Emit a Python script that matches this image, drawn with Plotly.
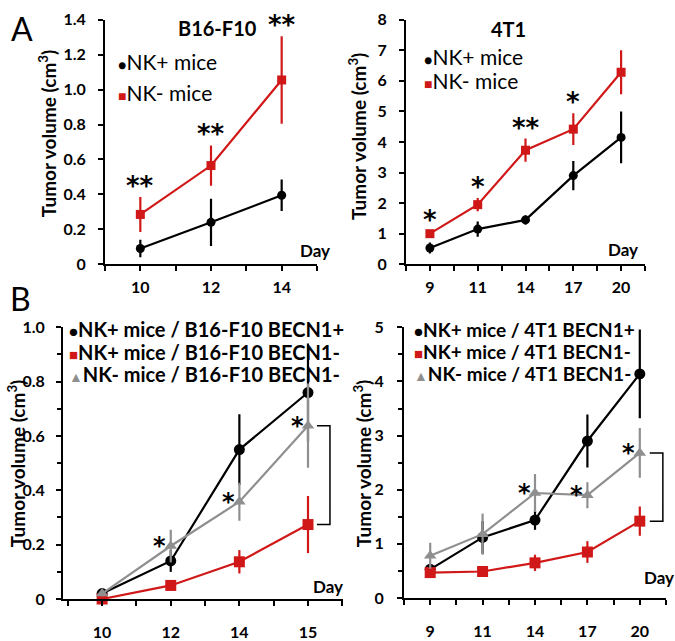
import plotly.graph_objects as go

# ---------------- data ----------------
days_a1 = ["10", "12", "14"]
a1_nkpos = [0.09, 0.24, 0.395]
a1_nkpos_err = [0.05, 0.135, 0.09]
a1_nkneg = [0.285, 0.565, 1.055]
a1_nkneg_err = [0.10, 0.115, 0.25]
a1_sig = ["**", "**", "**"]

days_a2 = ["9", "11", "14", "17", "20"]
a2_nkpos = [0.53, 1.15, 1.45, 2.90, 4.15]
a2_nkpos_err = [0.18, 0.25, 0.15, 0.48, 0.85]
a2_nkneg = [1.00, 1.95, 3.73, 4.42, 6.28]
a2_nkneg_err = [0.10, 0.22, 0.38, 0.52, 0.72]
a2_sig = ["*", "*", "**", "*", ""]

days_b1 = ["10", "12", "14", "15"]
b1_pos_becn_pos = [0.02, 0.14, 0.55, 0.76]
b1_pos_becn_pos_err = [0.01, 0.04, 0.13, 0.18]
b1_pos_becn_neg = [0.0, 0.05, 0.137, 0.274]
b1_pos_becn_neg_err = [0.005, 0.02, 0.043, 0.105]
b1_neg_becn_neg = [0.02, 0.195, 0.358, 0.638]
b1_neg_becn_neg_err = [0.01, 0.06, 0.07, 0.155]
b1_sig = ["", "*", "*", "*"]

days_b2 = ["9", "11", "14", "17", "20"]
b2_pos_becn_pos = [0.53, 1.12, 1.44, 2.90, 4.14]
b2_pos_becn_pos_err = [0.10, 0.30, 0.18, 0.49, 0.82]
b2_pos_becn_neg = [0.47, 0.49, 0.65, 0.85, 1.42]
b2_pos_becn_neg_err = [0.10, 0.08, 0.15, 0.20, 0.27]
b2_neg_becn_neg = [0.78, 1.18, 1.94, 1.90, 2.68]
b2_neg_becn_neg_err = [0.24, 0.38, 0.35, 0.24, 0.46]
b2_sig = ["", "", "*", "*", "*"]

a1_yticks = [0, 0.2, 0.4, 0.6, 0.8, 1.0, 1.2, 1.4]
a1_yticktext = ["0", "0.2", "0.4", "0.6", "0.8", "1.0", "1.2", "1.4"]
a2_yticks = [0, 1, 2, 3, 4, 5, 6, 7, 8]
b1_yticks = [0, 0.2, 0.4, 0.6, 0.8, 1.0]
b1_yticktext = ["0", "0.2", "0.4", "0.6", "0.8", "1.0"]
b2_yticks = [0, 1, 2, 3, 4, 5]

# ---------------- styles ----------------
W, H = 675, 641
BLACK = "#000000"
RED = "#d01818"
GRAY = "#8f8f8f"
FONT = "Lato"

def px(x):
    return x / W

def py(y):
    return 1 - y / H

fig = go.Figure()

def add_series(xa, ya, days, vals, errs, color, symbol, size, lw=2.2):
    fig.add_trace(go.Scatter(
        x=list(range(len(days))), y=vals,
        mode="lines+markers",
        line=dict(color=color, width=lw),
        marker=dict(color=color, symbol=symbol, size=size, line=dict(width=0)),
        error_y=dict(type="data", array=errs, visible=True, color=color,
                     thickness=2.2, width=0),
        xaxis=xa, yaxis=ya, showlegend=False, hoverinfo="skip",
        cliponaxis=False,
    ))

# Panel A left
add_series("x", "y", days_a1, a1_nkpos, a1_nkpos_err, BLACK, "circle", 9)
add_series("x", "y", days_a1, a1_nkneg, a1_nkneg_err, RED, "square", 9)
# Panel A right
add_series("x2", "y2", days_a2, a2_nkpos, a2_nkpos_err, BLACK, "circle", 9)
add_series("x2", "y2", days_a2, a2_nkneg, a2_nkneg_err, RED, "square", 9)
# Panel B left
add_series("x3", "y3", days_b1, b1_pos_becn_pos, b1_pos_becn_pos_err, BLACK, "circle", 11)
add_series("x3", "y3", days_b1, b1_pos_becn_neg, b1_pos_becn_neg_err, RED, "square", 11)
add_series("x3", "y3", days_b1, b1_neg_becn_neg, b1_neg_becn_neg_err, GRAY, "triangle-up", 11)
# Panel B right
add_series("x4", "y4", days_b2, b2_pos_becn_pos, b2_pos_becn_pos_err, BLACK, "circle", 11)
add_series("x4", "y4", days_b2, b2_pos_becn_neg, b2_pos_becn_neg_err, RED, "square", 11)
add_series("x4", "y4", days_b2, b2_neg_becn_neg, b2_neg_becn_neg_err, GRAY, "triangle-up", 11)

TICKFONT = dict(family=FONT, size=16, color="black", weight="bold")

def xaxis_cfg(days, domain, rng, standoff):
    n = len(days)
    vals, text = [], []
    for i in range(n):
        vals += [i - 0.5, i]
        text += ["", days[i]]
    vals.append(n - 0.5)
    text.append("")
    return dict(domain=domain, range=rng, tickvals=vals, ticktext=text,
                showline=True, linecolor="black", linewidth=2, ticks="outside",
                ticklen=5, tickwidth=2, tickcolor="black", showgrid=False,
                zeroline=False, ticklabelstandoff=standoff, tickfont=TICKFONT)

def yaxis_cfg(domain, rng, tickvals, ticktext, standoff, minor=None):
    d = dict(domain=domain, range=rng, tickvals=tickvals, ticktext=ticktext,
             showline=True, linecolor="black", linewidth=2, ticks="outside",
             ticklen=5, tickwidth=2, tickcolor="black", showgrid=False,
             zeroline=False, ticklabelstandoff=standoff, tickfont=TICKFONT)
    if minor is not None:
        d["minor"] = dict(ticks="outside", dtick=minor, ticklen=4, tickwidth=2,
                          tickcolor="black", showgrid=False)
    return d

fig.update_layout(
    width=W, height=H, margin=dict(l=0, r=0, t=0, b=0),
    paper_bgcolor="white", plot_bgcolor="white",
    font=dict(family=FONT, color="black"),
    xaxis=xaxis_cfg(days_a1, [px(105), px(317)], [-0.5, 2.5], 3),
    yaxis=yaxis_cfg([py(262), py(10)], [0, 1.4], a1_yticks, a1_yticktext, 9),
    xaxis2=xaxis_cfg(days_a2, [px(406), px(645)], [-0.5, 4.5], 3),
    yaxis2=yaxis_cfg([py(262), py(10)], [0, 8], a2_yticks, [str(v) for v in a2_yticks], 9),
    xaxis3=xaxis_cfg(days_b1, [px(63), px(343)], [-0.57, 3.51], 13),
    yaxis3=yaxis_cfg([py(607), py(327)], [0, 1.0], b1_yticks, b1_yticktext, 8, minor=0.1),
    xaxis4=xaxis_cfg(days_b2, [px(404), px(666)], [-0.5, 4.5], 13),
    yaxis4=yaxis_cfg([py(606), py(327)], [0, 5], b2_yticks, [str(v) for v in b2_yticks], 10, minor=0.5),
)
for i in ["", "2", "3", "4"]:
    fig.layout["xaxis" + i]["anchor"] = "y" + i
    fig.layout["yaxis" + i]["anchor"] = "x" + i

ann = []

def paper_text(x, y, text, size, bold=False, xanchor="center", yanchor="middle", angle=0):
    ann.append(dict(xref="paper", yref="paper", x=px(x), y=py(y), text=text,
                    showarrow=False, xanchor=xanchor, yanchor=yanchor, textangle=angle,
                    font=dict(family=FONT, size=size, color="black",
                              weight="bold" if bold else "normal")))

# panel letters
paper_text(22, 19, "A", 32)
paper_text(20, 297, "B", 32)
# titles
paper_text(217, 19, "B16-F10", 20, bold=True)
paper_text(508, 20, "4T1", 20, bold=True)
# y titles
ytitle = "Tumor volume (cm<sup>3</sup>)"
paper_text(47, 128, ytitle, 19, bold=True, angle=-90)
paper_text(357, 131, ytitle, 19, bold=True, angle=-90)
paper_text(16, 468, ytitle, 19, bold=True, angle=-90)
paper_text(362, 468, ytitle, 19, bold=True, angle=-90)
# Day labels
paper_text(315, 248, "Day", 17, bold=True)
paper_text(623, 247, "Day", 17, bold=True)
paper_text(328, 594, "Day", 17, bold=True)
paper_text(659, 585, "Day", 17, bold=True)

# legends
def legend_item(x, y, glyph, gsize, color, label, size, bold):
    w = "bold" if bold else "normal"
    text = (f"<span style='font-size:{gsize}px;color:{color}'>{glyph}</span>"
            f"{label}")
    ann.append(dict(xref="paper", yref="paper", x=px(x), y=py(y), text=text,
                    showarrow=False, xanchor="left", yanchor="middle",
                    font=dict(family=FONT, size=size, color="black", weight=w)))

legend_item(116, 53, "●", 14, BLACK, "NK+ mice", 21, False)
legend_item(116, 85, "■", 14, RED, "NK- mice", 21, False)
legend_item(422, 48, "●", 14, BLACK, "NK+ mice", 21, False)
legend_item(422, 73, "■", 14, RED, "NK- mice", 21, False)

legend_item(67, 329, "●", 15, BLACK, "NK+ mice / B16-F10 BECN1+", 20, True)
legend_item(67, 352, "■", 15, RED, "NK+ mice / B16-F10 BECN1-", 20, True)
legend_item(67, 375, "▲", 14, GRAY, "NK- mice / B16-F10 BECN1-", 20, True)
legend_item(412, 329, "●", 15, BLACK, "NK+ mice / 4T1 BECN1+", 19, True)
legend_item(412, 352, "■", 15, RED, "NK+ mice / 4T1 BECN1-", 19, True)
legend_item(412, 375, "▲", 14, GRAY, "NK- mice / 4T1 BECN1-", 19, True)

# significance stars (panel A: above red error bars)
def stars_above(xa, ya, vals, errs, sig, size):
    for i, s in enumerate(sig):
        if s:
            ann.append(dict(xref=xa, yref=ya, x=i, y=vals[i] + errs[i], text=s,
                            showarrow=False, xanchor="center", yanchor="bottom",
                            yshift=-6,
                            font=dict(family="DejaVu Sans", size=size, color="black",
                                      weight="bold")))

stars_above("x", "y", a1_nkneg, a1_nkneg_err, a1_sig, 26)
stars_above("x2", "y2", a2_nkneg, a2_nkneg_err, a2_sig, 26)

def stars_beside(xa, ya, vals, sig, size):
    for i, s in enumerate(sig):
        if s:
            ann.append(dict(xref=xa, yref=ya, x=i, y=vals[i], text=s,
                            showarrow=False, xanchor="center", yanchor="middle",
                            xshift=-11, yshift=0,
                            font=dict(family="DejaVu Sans", size=size, color="black",
                                      weight="bold")))

stars_beside("x3", "y3", b1_neg_becn_neg, b1_sig, 24)
stars_beside("x4", "y4", b2_neg_becn_neg, b2_sig, 24)

fig.update_layout(annotations=ann)

# brackets comparing last points of gray vs red in panel B
def bracket(xa, ya, n, top, bottom, dx_stub, dx_line):
    x_line = n - 1 + dx_line
    x_stub = n - 1 + dx_stub
    fig.add_shape(type="path", xref=xa, yref=ya,
                  path=f"M {x_stub} {top} L {x_line} {top} L {x_line} {bottom} L {x_stub} {bottom}",
                  line=dict(color="black", width=1.5))

bracket("x3", "y3", len(days_b1), b1_neg_becn_neg[-1], b1_pos_becn_neg[-1], 0.13, 0.32)
bracket("x4", "y4", len(days_b2), b2_neg_becn_neg[-1], b2_pos_becn_neg[-1], 0.19, 0.44)

fig.write_html("out.html",
               config={"displayModeBar": False},
               post_script="document.body.style.margin='0';"
                           "document.body.style.overflow='hidden';")
